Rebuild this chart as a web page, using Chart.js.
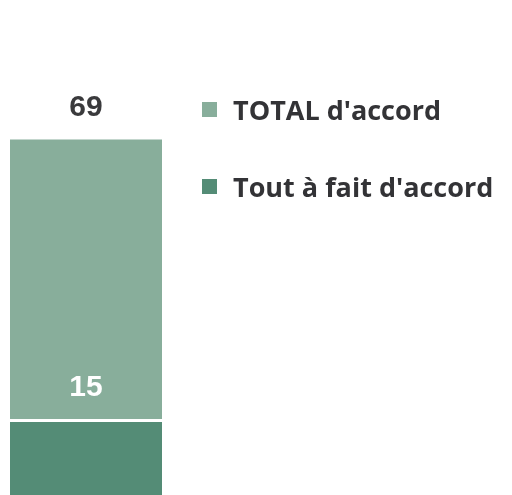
<!DOCTYPE html>
<html lang="fr">
<head>
  <meta charset="UTF-8" />
  <title>Accord</title>
  <script src="https://cdn.jsdelivr.net/npm/chart.js"></script>
  <style>
    * { margin: 0; padding: 0; box-sizing: border-box; }
    html, body { width: 512px; height: 495px; overflow: hidden; background: #fff; }
    .wrap { position: relative; width: 512px; height: 497px; }
    #legend {
      position: absolute;
      left: 202px;
      top: 94px;
      list-style: none;
      font-family: 'Open Sans', sans-serif;
      font-weight: bold;
      font-size: 27px;
      color: #333336;
    }
    #legend li {
      display: flex;
      align-items: center;
      height: 30px;
      margin-bottom: 47px;
      white-space: nowrap;
    }
    #legend .box {
      display: inline-block;
      width: 15px;
      height: 15px;
      margin-right: 16px;
    }
  </style>
</head>
<body>
  <div class="wrap">
    <canvas id="chart" width="512" height="497"></canvas>
    <ul id="legend"></ul>
  </div>

  <script>
    const categories = [''];
    const seriesNames = ["TOTAL d'accord", "Tout à fait d'accord"];
    const totalAccord = [69];
    const toutAFait = [15];
    const colors = ['#88ae9b', '#548c76'];

    // labels drawn just above each bar's end
    const barLabels = {
      id: 'barLabels',
      afterDatasetsDraw(chart) {
        const ctx = chart.ctx;
        const textColors = ['#3a3a3c', '#ffffff'];
        ctx.save();
        ctx.font = 'bold 30px "Liberation Sans", Arial, sans-serif';
        ctx.textAlign = 'center';
        ctx.textBaseline = 'middle';
        chart.data.datasets.forEach((ds, i) => {
          const meta = chart.getDatasetMeta(i);
          meta.data.forEach((bar, j) => {
            ctx.fillStyle = textColors[i];
            ctx.fillText(String(ds.data[j]), bar.x, bar.y - 32);
          });
        });
        ctx.restore();
      }
    };

    const htmlLegend = {
      id: 'htmlLegend',
      afterUpdate(chart) {
        const ul = document.getElementById('legend');
        ul.innerHTML = '';
        chart.data.datasets.forEach(ds => {
          const li = document.createElement('li');
          const box = document.createElement('span');
          box.className = 'box';
          box.style.background = ds.backgroundColor;
          li.appendChild(box);
          li.appendChild(document.createTextNode(ds.label));
          ul.appendChild(li);
        });
      }
    };

    new Chart(document.getElementById('chart'), {
      type: 'bar',
      data: {
        labels: categories,
        datasets: [
          {
            label: seriesNames[0],
            data: totalAccord,
            backgroundColor: colors[0],
            order: 1
          },
          {
            label: seriesNames[1],
            data: toutAFait,
            backgroundColor: colors[1],
            borderColor: '#ffffff',
            borderWidth: { top: 3 },
            order: 0
          }
        ]
      },
      options: {
        responsive: false,
        animation: false,
        layout: { padding: { left: 10, right: 350, top: 0, bottom: 0 } },
        datasets: { bar: { barPercentage: 1, categoryPercentage: 1 } },
        plugins: {
          legend: { display: false },
          tooltip: { enabled: false }
        },
        scales: {
          x: { stacked: true, display: false },
          y: { stacked: false, display: false, min: 0, max: 96 }
        }
      },
      plugins: [barLabels, htmlLegend]
    });
  </script>
</body>
</html>
